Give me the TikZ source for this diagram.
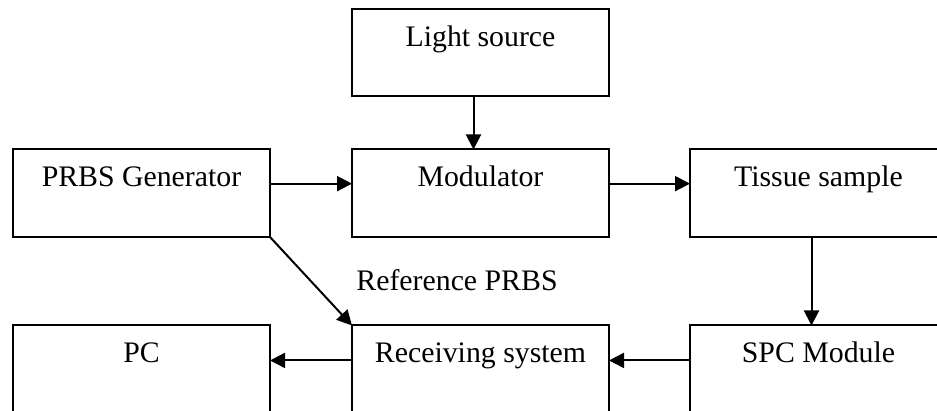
\documentclass[tikz,border=0pt]{standalone}
\usepackage{fontspec}
\setmainfont{Liberation Serif}
\usetikzlibrary{arrows.meta}
\begin{document}
\begin{tikzpicture}[x=0.5pt,y=-0.5pt,
    block/.style={draw, line width=1pt, minimum width=128.5pt, minimum height=43.75pt,
                  inner sep=0pt, outer sep=0pt, anchor=north west},
    caption/.style={font=\fontsize{14.9}{17}\selectfont, inner sep=0pt, anchor=base},
    flow/.style={line width=1pt, -{Triangle[length=7.5pt,width=7.5pt]}}]
  \useasboundingbox (0,0) rectangle (937,411);
  \clip (0,0) rectangle (937,411);

  % blocks
  \node[block] (light) at (352,9)     {};
  \node[block] (prbs)  at (13,149.5)  {};
  \node[block] (mod)   at (352,149.5) {};
  \node[block] (tis)   at (690,149.5) {};
  \node[block] (pc)    at (13,325.5)  {};
  \node[block] (recv)  at (352,325.5) {};
  \node[block] (spc)   at (690,325.5) {};

  % block captions, set near the top of each block
  \node[caption] (lightT) at ([yshift=-18.7pt]light.north) {Light source};
  \node[caption] (prbsT)  at ([yshift=-18.7pt]prbs.north)  {PRBS Generator};
  \node[caption] (modT)   at ([yshift=-18.7pt]mod.north)   {Modulator};
  \node[caption] (tisT)   at ([yshift=-18.7pt]tis.north)   {Tissue sample};
  \node[caption] (pcT)    at ([yshift=-18.7pt]pc.north)    {PC};
  \node[caption] (recvT)  at ([yshift=-18.7pt]recv.north)  {Receiving system};
  \node[caption] (spcT)   at ([yshift=-18.7pt]spc.north)   {SPC Module};

  % label of the reference path
  \node[caption] (refT) at (457,290.7) {Reference PRBS};

  % signal flow
  \draw[flow] ([xshift=-3.5pt]light.south) -- ([xshift=-3.5pt]mod.north);
  \draw[flow] ([yshift=4.8pt]prbs.east) -- ([yshift=4.8pt]mod.west);
  \draw[flow] ([yshift=4.8pt]mod.east) -- ([yshift=4.8pt]tis.west);
  \draw[flow] ([xshift=-3.5pt]tis.south) -- ([xshift=-3.5pt]spc.north);
  \draw[flow] ([yshift=4.4pt]spc.west) -- ([yshift=4.4pt]recv.east);
  \draw[flow] ([yshift=4.4pt]recv.west) -- ([yshift=4.4pt]pc.east);
  \draw[flow] (prbs.south east) -- (recv.north west);
\end{tikzpicture}
\end{document}
